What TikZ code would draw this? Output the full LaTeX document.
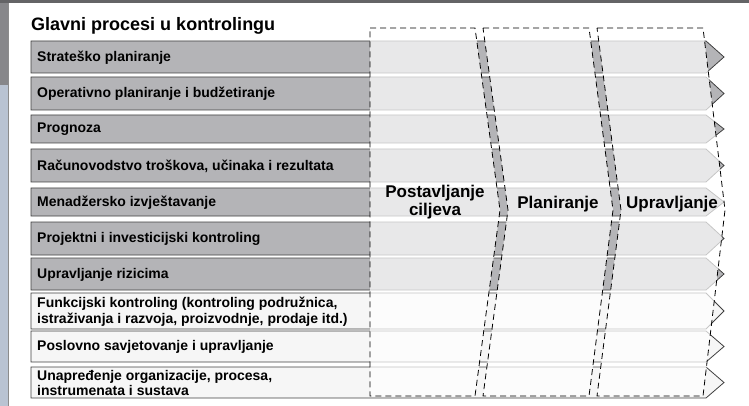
\documentclass[tikz,border=0pt]{standalone}
\usepackage{fontspec}
\setmainfont{Liberation Sans}
\usepackage{tikz}

\definecolor{rowgray}{RGB}{180,180,183}
\definecolor{rowlight}{RGB}{246,246,246}
\definecolor{barcol}{RGB}{100,100,102}
\definecolor{sidegray}{RGB}{135,135,138}
\definecolor{sideblue}{RGB}{185,195,210}

\begin{document}
\begin{tikzpicture}[x=1pt,y=-1pt,
  lbl/.style={font=\bfseries\fontsize{14}{15.5}\selectfont,anchor=west,align=left,inner sep=0pt},
  collbl/.style={font=\bfseries\fontsize{17}{18}\selectfont,align=center,inner sep=0pt},
  colarea/.style={fill=white,fill opacity=0.7,draw=black,dash pattern=on 6pt off 4pt,line width=0.8pt}]
  \useasboundingbox (0,0) rectangle (749,406);
  % window frame
  \fill[barcol] (0,0) rectangle (749,3);
  \fill[sidegray] (0,3) rectangle (8,85);
  \fill[sideblue] (0,85) rectangle (8,406);
  \draw[black!45] (8.5,3) -- (8.5,406);
  \node[font=\bfseries\fontsize{18}{20}\selectfont,anchor=base west,inner sep=0pt] (title) at (31,30.5) {Glavni procesi u kontrolingu};
  % process arrows
  \foreach \i/\t/\b/\c/\txt in {1/41/73/rowgray/Strateško planiranje,
      2/77/110/rowgray/Operativno planiranje i budžetiranje,
      3/115/143/rowgray/Prognoza,
      4/149/182/rowgray/{Računovodstvo troškova, učinaka i rezultata},
      5/188/216/rowgray/Menadžersko izvještavanje,
      6/222/255/rowgray/Projektni i investicijski kontroling,
      7/258/290/rowgray/Upravljanje rizicima,
      8/293/329/rowlight/{Funkcijski kontroling (kontroling podružnica,\\istraživanja i razvoja, proizvodnje, prodaje itd.)},
      9/331/362/rowlight/Poslovno savjetovanje i upravljanje,
      10/367/398/rowlight/{Unapređenje organizacije, procesa,\\instrumenata i sustava}}{
    \draw[fill=\c,draw=black!75,line width=0.8pt] (31,\t) -- (706,\t) -- (724,{(\t+\b)/2}) -- (706,\b) -- (31,\b) -- cycle;
    \node[lbl] (r\i) at (37,{(\t+\b)/2+0.5}) {\txt};
  }
  % phases
  \path[colarea] (370,28) -- (475,28) -- (500,210) -- (475,396) -- (370,396) -- cycle;
  \path[colarea] (483,28) -- (589,28) -- (613,210) -- (589,396) -- (483,396) -- (508,210) -- cycle;
  \path[colarea] (597,28) -- (703,28) -- (725,210) -- (703,396) -- (597,396) -- (621,210) -- cycle;
  \node[collbl] (ciljevi) at (435,202) {Postavljanje\\ciljeva};
  \node[collbl] (plan) at (558,204) {Planiranje};
  \node[collbl] (uprav) at (672,204) {Upravljanje};
\end{tikzpicture}
\end{document}
